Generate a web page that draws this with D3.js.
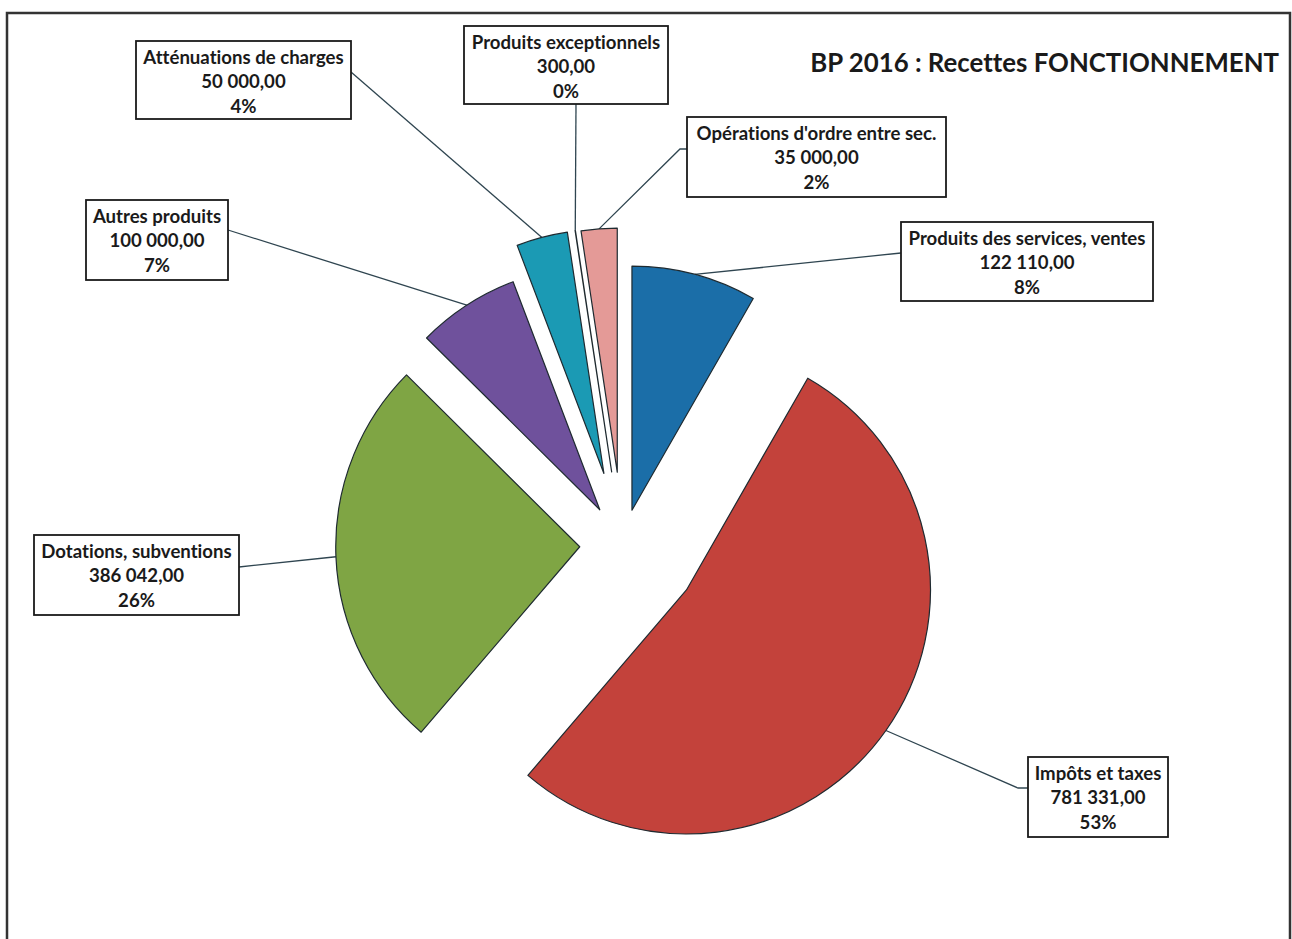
<!DOCTYPE html>
<html>
<head>
<meta charset="utf-8">
<script src="https://cdn.jsdelivr.net/npm/d3@7"></script>
<style>
  body { margin: 0; background: #fff; }
  svg { display: block; font-family: Lato, "Open Sans", sans-serif; font-variant-ligatures: none; }
</style>
</head>
<body>
<svg id="chart" width="1292" height="939"></svg>
<script>
const title = 'BP 2016 : Recettes FONCTIONNEMENT'
const categories = ['Produits des services, ventes', 'Impôts et taxes', 'Dotations, subventions', 'Autres produits', 'Atténuations de charges', 'Produits exceptionnels', "Opérations d'ordre entre sec."]
const values = [122110, 781331, 386042, 100000, 50000, 300, 35000]
const percents = ['8%', '53%', '26%', '7%', '4%', '0%', '2%']

// styles / layout
const colors = ['#1b6ea8', '#c3423b', '#7fa544', '#6f519c', '#1b9ab4', '#f0913e', '#e49a97']
const explode = [36, 78, 43, 42, 74, 74, 73]
// label boxes [x, y, w, h] and where the leader line ends (elbow optional)
const boxes = [
    { box: [901, 222, 252, 79], end: [901, 253] },
    { box: [1028, 757, 140, 80], elbow: [1018, 788], end: [1028, 788] },
    { box: [34, 535, 205, 80], end: [239, 567] },
    { box: [86, 200, 142, 80], end: [228, 230] },
    { box: [136, 41, 215, 78], end: [351, 72] },
    { box: [464, 26, 204, 78], end: [576, 104] },
    { box: [687, 117, 259, 80], elbow: [680, 149], end: [687, 149] }
]

const cx = 622.7, cy = 545, radius = 244

const fr = d3.formatLocale({ decimal: ',', thousands: '\u00a0', grouping: [3], currency: ['', ''] })
const fmt = fr.format(',.2f')

const svg = d3.select('#chart')

// frame
svg.append('rect')
    .attr('x', 7).attr('y', 13)
    .attr('width', 1283).attr('height', 950)
    .attr('fill', 'none')
    .attr('stroke', '#333')
    .attr('stroke-width', 2.5)

svg.append('text')
    .attr('x', 1279).attr('y', 72)
    .attr('text-anchor', 'end')
    .attr('font-size', 25.8)
    .attr('font-weight', 'bold')
    .attr('fill', '#1a1a1a')
    .text(title)

const pie = d3.pie().sort(null).value(d => d)
const arcs = pie(values)
const arc = d3.arc().innerRadius(0).outerRadius(radius)

const offset = (d, i) => {
    const a = (d.startAngle + d.endAngle) / 2
    return [cx + explode[i] * Math.sin(a), cy - explode[i] * Math.cos(a)]
}

// leader lines
const lines = svg.append('g')
arcs.forEach((d, i) => {
    const [ox, oy] = offset(d, i)
    const a = (d.startAngle + d.endAngle) / 2
    const pts = [[ox + radius * Math.sin(a), oy - radius * Math.cos(a)]]
    if (boxes[i].elbow) pts.push(boxes[i].elbow)
    pts.push(boxes[i].end)
    lines.append('path')
        .attr('d', d3.line()(pts))
        .attr('fill', 'none')
        .attr('stroke', '#2f4550')
        .attr('stroke-width', 1.3)
})

// slices
svg.append('g')
    .selectAll('path')
    .data(arcs)
    .enter().append('path')
    .attr('transform', (d, i) => 'translate(' + offset(d, i) + ')')
    .attr('d', arc)
    .attr('fill', (d, i) => colors[i])
    .attr('stroke', '#1e2a30')
    .attr('stroke-width', 1.2)
    .attr('stroke-linejoin', 'round')

// label boxes
const labels = svg.append('g')
    .selectAll('g')
    .data(categories)
    .enter().append('g')

labels.append('rect')
    .attr('x', (d, i) => boxes[i].box[0])
    .attr('y', (d, i) => boxes[i].box[1])
    .attr('width', (d, i) => boxes[i].box[2])
    .attr('height', (d, i) => boxes[i].box[3])
    .attr('fill', '#fff')
    .attr('stroke', '#1a1a1a')
    .attr('stroke-width', 1.8)

labels.each(function (d, i) {
    const [bx, by, bw] = boxes[i].box
    const t = d3.select(this).append('text')
        .attr('text-anchor', 'middle')
        .attr('font-size', 18.6)
        .attr('font-weight', 'bold')
        .attr('fill', '#1a1a1a')
    ;[d, fmt(values[i]), percents[i]].forEach((s, k) => {
        t.append('tspan')
            .attr('x', bx + bw / 2)
            .attr('y', by + 22.5 + k * 24.5)
            .text(s)
    })
})
</script>
</body>
</html>
